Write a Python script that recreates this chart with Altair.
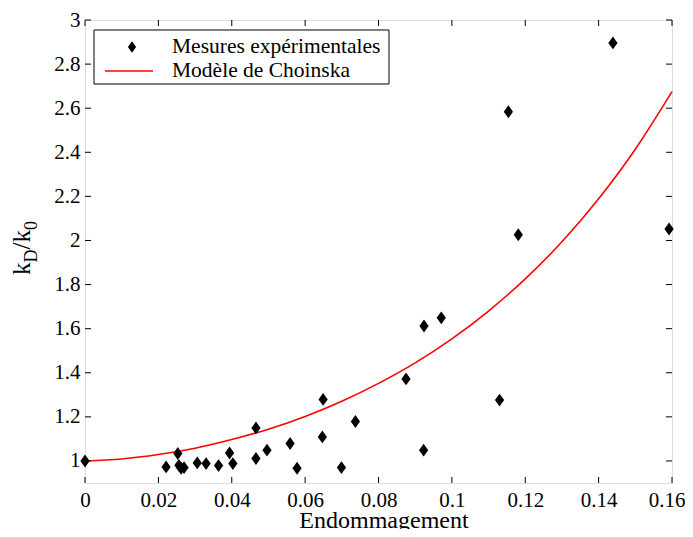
import altair as alt
import pandas as pd

# Experimental measurements (damage D, k_D/k_0)
meas_x = [0.0, 0.0221, 0.0253, 0.0256, 0.0262, 0.0270, 0.0306, 0.0330, 0.0364,
          0.0394, 0.0403, 0.0466, 0.0466, 0.0496, 0.0559, 0.0578, 0.0649,
          0.0647, 0.0699, 0.0737, 0.0875, 0.0923, 0.0924, 0.0971, 0.1130,
          0.1154, 0.1181, 0.1439, 0.1592]
meas_y = [1.000, 0.973, 1.034, 0.980, 0.967, 0.970, 0.991, 0.988, 0.979,
          1.036, 0.988, 1.150, 1.011, 1.049, 1.079, 0.967, 1.279,
          1.109, 0.970, 1.179, 1.372, 1.049, 1.612, 1.649, 1.276,
          2.584, 2.026, 2.896, 2.052]

# Choinska model curve
model_x = [0.00, 0.01, 0.02, 0.03, 0.04, 0.05, 0.06, 0.07, 0.08,
           0.09, 0.10, 0.11, 0.12, 0.13, 0.14, 0.15, 0.16]
model_y = [1.000, 1.009, 1.029, 1.058, 1.097, 1.144, 1.202, 1.271, 1.352,
           1.445, 1.554, 1.680, 1.826, 1.994, 2.189, 2.414, 2.675]

x_ticks = [0, 0.02, 0.04, 0.06, 0.08, 0.1, 0.12, 0.14, 0.16]
y_ticks = [1, 1.2, 1.4, 1.6, 1.8, 2, 2.2, 2.4, 2.6, 2.8, 3]

series_names = ["Mesures expérimentales", "Modèle de Choinska"]
x_title = "Endommagement"

W, H = 587, 463
FONT = "Liberation Serif"
DIAMOND = "M0,-1L0.72,0L0,1L-0.72,0Z"
TL = 6

meas = pd.DataFrame({"D": meas_x, "k": meas_y})
model = pd.DataFrame({"D": model_x, "k": model_y})
xt = pd.DataFrame({"t": x_ticks})
yt = pd.DataFrame({"t": y_ticks})

xs = alt.Scale(domain=[0, 0.16], nice=False, zero=False)
ys = alt.Scale(domain=[0.9, 3], nice=False, zero=False)

xaxis = alt.Axis(values=x_ticks, format="~g", title=None, tickSize=0, domain=False,
                 grid=False, labelFont=FONT, labelFontSize=21, labelColor="black",
                 labelPadding=6, labelFlush=False,
                 labelAlign=alt.ExprRef(expr="datum.value >= 0.159 ? 'right' : 'center'"),
                 labelOffset=alt.ExprRef(expr="datum.value >= 0.159 ? 13 : 0"))
yaxis = alt.Axis(values=y_ticks, format="~g", title=None, tickSize=0, domain=False,
                 grid=False, labelFont=FONT, labelFontSize=21, labelColor="black",
                 labelPadding=5, labelFlush=False)

curve = alt.Chart(model).mark_line(color="#ff0000", strokeWidth=1.6, interpolate="monotone").encode(
    x=alt.X("D:Q", scale=xs, axis=xaxis),
    y=alt.Y("k:Q", scale=ys, axis=yaxis),
)
points = alt.Chart(meas).mark_point(shape=DIAMOND, filled=True, color="black", size=165, opacity=1).encode(
    x=alt.X("D:Q", scale=xs),
    y=alt.Y("k:Q", scale=ys),
)

tick_b = alt.Chart(xt).mark_rule(color="black", strokeWidth=1).encode(
    x=alt.X("t:Q", scale=xs), y=alt.value(H), y2=alt.value(H - TL))
tick_t = alt.Chart(xt).mark_rule(color="black", strokeWidth=1).encode(
    x=alt.X("t:Q", scale=xs), y=alt.value(0), y2=alt.value(TL))
tick_l = alt.Chart(yt).mark_rule(color="black", strokeWidth=1).encode(
    y=alt.Y("t:Q", scale=ys), x=alt.value(0), x2=alt.value(TL))
tick_r = alt.Chart(yt).mark_rule(color="black", strokeWidth=1).encode(
    y=alt.Y("t:Q", scale=ys), x=alt.value(W), x2=alt.value(W - TL))

# X title
xtitle = alt.Chart(pd.DataFrame({"s": [x_title]})).mark_text(
    font=FONT, fontSize=24, align="center", baseline="alphabetic", color="black"
).encode(text="s:N", x=alt.value(299), y=alt.value(H + 45))

# Y title k_D/k_0 built from pieces (rotated)
def ytext(txt, size, xpos, ypos):
    return alt.Chart(pd.DataFrame({"s": [txt]})).mark_text(
        font=FONT, fontSize=size, angle=270, align="left", baseline="alphabetic", color="black"
    ).encode(text="s:N", x=alt.value(xpos), y=alt.value(ypos))

BIG, SUB = 25, 18
y0 = 255
XB = -55
yt_k1 = ytext("k", BIG, XB, y0)
yt_D = ytext("D", SUB, XB + 7, y0 - 12.5)
yt_sl = ytext("/k", BIG, XB, y0 - 12.5 - 13)
yt_0 = ytext("0", SUB, XB + 7, y0 - 12.5 - 13 - 19.5)

# Legend
leg_box = alt.Chart(pd.DataFrame({"a": [0]})).mark_rect(fill="white", stroke="black", strokeWidth=1).encode(
    x=alt.value(9), x2=alt.value(304), y=alt.value(10), y2=alt.value(64))
leg_pt = alt.Chart(pd.DataFrame({"a": [0]})).mark_point(shape=DIAMOND, filled=True, color="black", size=130, opacity=1).encode(
    x=alt.value(47), y=alt.value(27))
leg_ln = alt.Chart(pd.DataFrame({"a": [0]})).mark_rule(color="#ff0000", strokeWidth=1.6).encode(
    x=alt.value(20), x2=alt.value(68), y=alt.value(51))
leg_txt = alt.Chart(pd.DataFrame({"s": series_names, "yy": [27, 51]})).mark_text(
    font=FONT, fontSize=21.5, align="left", baseline="middle", color="black"
).encode(text="s:N", x=alt.value(87), y=alt.Y("yy:Q", scale=None))

chart = alt.layer(
    curve, points, tick_b, tick_t, tick_l, tick_r, xtitle,
    yt_k1, yt_D, yt_sl, yt_0,
    leg_box, leg_pt, leg_ln, leg_txt,
).properties(
    width=W, height=H,
    autosize=alt.AutoSizeParams(type="none"),
    padding={"left": 77, "top": 12, "right": 13, "bottom": 46},
).configure_view(stroke="black", strokeWidth=1).configure(background="white")

chart.save("out.html", embed_options={"renderer": "svg", "actions": False})
